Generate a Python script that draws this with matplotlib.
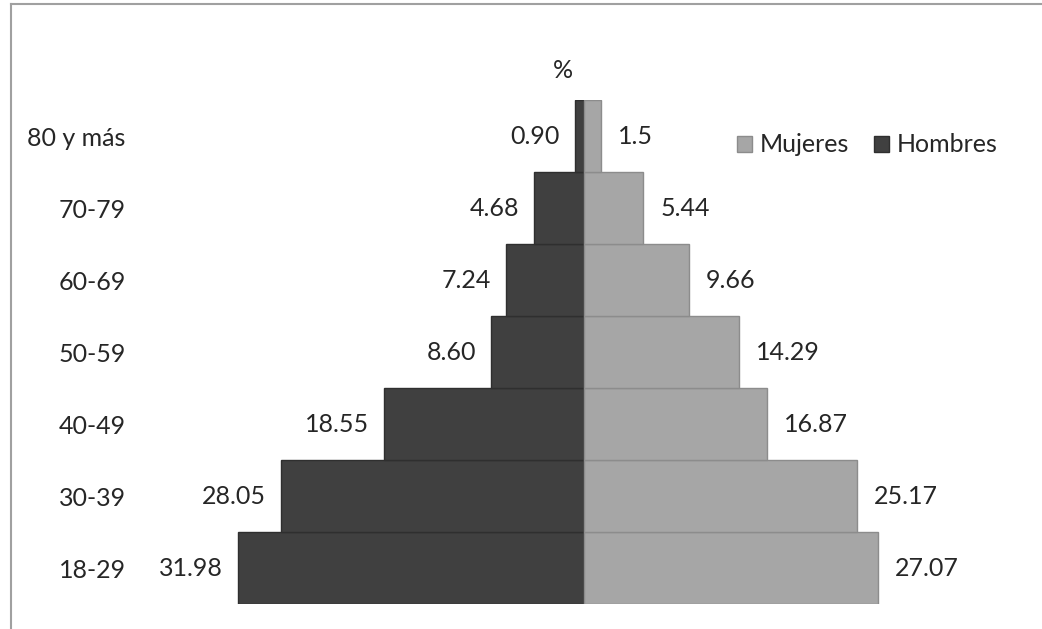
import matplotlib
matplotlib.use("Agg")
import matplotlib.pyplot as plt
from matplotlib.patches import Patch
from matplotlib.lines import Line2D

# Age groups, youngest first (bottom of the pyramid)
grupos = ["18-29", "30-39", "40-49", "50-59", "60-69", "70-79", "80 y más"]
hombres = [31.98, 28.05, 18.55, 8.60, 7.24, 4.68, 0.90]
mujeres = [27.07, 25.17, 16.87, 14.29, 9.66, 5.44, 1.5]
decimales_hombres = [2, 2, 2, 2, 2, 2, 2]
decimales_mujeres = [2, 2, 2, 2, 2, 2, 1]

plt.rcParams["font.family"] = ["Lato", "DejaVu Sans"]

W, H, DPI = 1042, 629, 100
fig = plt.figure(figsize=(W / DPI, H / DPI), dpi=DPI)

# Axes placed in pixel terms: bars run from y=100 to y=604 (from top)
ax_left, ax_right = 130, 1030
ax_top, ax_bottom = 100, 604
ax = fig.add_axes([ax_left / W, (H - ax_bottom) / H,
                   (ax_right - ax_left) / W, (ax_bottom - ax_top) / H])

px_per_unit = 10.83
center_px = 584.5
ax.set_xlim(-(center_px - ax_left) / px_per_unit, (ax_right - center_px) / px_per_unit)
ax.set_ylim(-0.5, len(grupos) - 0.5)

c_h, c_m = "#404040", "#a6a6a6"
e_h, e_m = "#2f2f2f", "#8c8c8c"
txt = "#262626"

y = list(range(len(grupos)))
ax.barh(y, [-v for v in hombres], height=1.0, color=c_h, edgecolor=e_h, linewidth=1.0)
ax.barh(y, mujeres, height=1.0, color=c_m, edgecolor=e_m, linewidth=1.0)

fs = 18
for yi, v, d in zip(y, hombres, decimales_hombres):
    ax.annotate(f"{v:.{d}f}", xy=(-v, yi), xytext=(-15, 0), textcoords="offset pixels",
                ha="right", va="center", fontsize=fs, color=txt)
for yi, v, d in zip(y, mujeres, decimales_mujeres):
    ax.annotate(f"{v:.{d}f}", xy=(v, yi), xytext=(17, 0), textcoords="offset pixels",
                ha="left", va="center", fontsize=fs, color=txt)

ax.set_yticks(y)
ax.set_yticklabels(grupos, fontsize=fs, color=txt)
ax.tick_params(axis="y", length=0, pad=3)
ax.set_xticks([])
for s in ax.spines.values():
    s.set_visible(False)

# Axis unit marker above the pyramid
fig.text(563 / W, 1 - 70 / H, "%", ha="center", va="center", fontsize=fs, color=txt)

# Legend
handles = [Patch(facecolor=c_m, edgecolor=e_m, label="Mujeres"),
           Patch(facecolor=c_h, edgecolor=e_h, label="Hombres")]
fig.legend(handles=handles, loc="center left", bbox_to_anchor=(737 / W, 1 - 145 / H),
           ncol=2, frameon=False, fontsize=fs, handlelength=0.6, handleheight=0.6,
           handletextpad=0.3, columnspacing=1.0, borderpad=0, borderaxespad=0,
           labelcolor=txt)

# Chart-area border (top and left edges)
border = "#a0a0a0"
fig.add_artist(Line2D([10.5 / W, 10.5 / W], [0, 1 - 4 / H], color=border, lw=1.5,
                      transform=fig.transFigure))
fig.add_artist(Line2D([10.5 / W, 1], [1 - 4 / H, 1 - 4 / H], color=border, lw=1.5,
                      transform=fig.transFigure))

fig.savefig("out.png", dpi=DPI)
